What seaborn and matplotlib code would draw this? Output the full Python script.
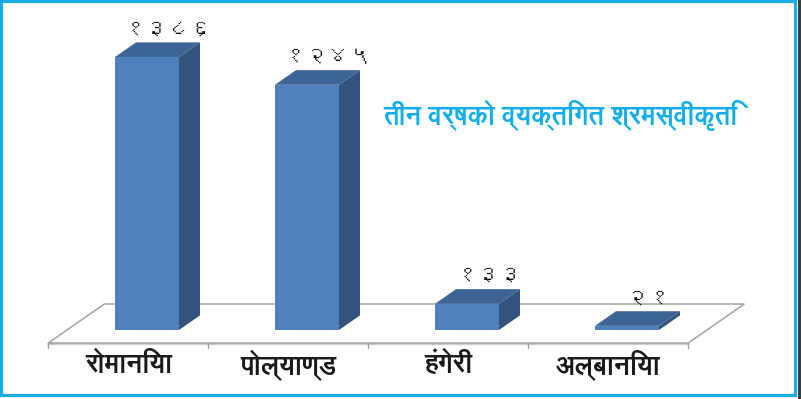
import matplotlib
matplotlib.use("Agg")
import matplotlib.pyplot as plt
import seaborn as sns
import pandas as pd
from matplotlib import font_manager
from matplotlib.ft2font import FT2Font
from matplotlib.patches import Polygon, Rectangle
from matplotlib.lines import Line2D
from matplotlib.transforms import IdentityTransform
import matplotlib.patheffects as pe

# ---------------- data ----------------
categories = ["रोमानिया", "पोल्याण्ड", "हंगेरी", "अल्बानिया"]
values = [1386, 1245, 133, 21]
value_labels = ["१३८६", "१२४५", "१३३", "२१"]
title_text = "तीन वर्षको व्यक्तिगत श्रमस्वीकृति"

# ---------------- fonts ----------------
def find_devanagari():
    regular, bold = None, None
    for f in font_manager.fontManager.ttflist:
        try:
            cm = FT2Font(f.fname).get_charmap()
        except Exception:
            continue
        if 0x0930 in cm and 0x0967 in cm:
            if regular is None:
                regular = f.name
            wt = f.weight
            if (isinstance(wt, int) and wt >= 600) or wt in ("bold", "heavy", "black", "semibold", "demibold"):
                if bold is None:
                    bold = f.name
    return regular, bold

sns.set_theme(style="white")
deva_reg, deva_bold = find_devanagari()
fams = ([deva_reg] if deva_reg else []) + ["DejaVu Sans"]
bold_fams = ([deva_bold] if deva_bold else fams[:1]) + ["DejaVu Sans"]
plt.rcParams["font.family"] = fams

# ---------------- figure ----------------
W, H = 801, 399
fig = plt.figure(figsize=(W / 100, H / 100), dpi=100)
fig.patch.set_facecolor("white")
ax = fig.add_axes([67 / W, 69 / H, 640 / W, 310 / H])

df = pd.DataFrame({"country": categories, "value": values})
sns.barplot(data=df, x="country", y="value", color="#4F81BD", saturation=1,
            width=0.4, ax=ax, zorder=3, linewidth=0)
ax.set_xlim(-0.5, 3.5)
ax.set_ylim(0, 1574)
ax.axis("off")

idt = IdentityTransform()
DX, DY = 56.0, 39.0          # floor depth in pixels
D0 = 1.0 / 3.0               # bar plane depth fraction
BD = 0.375                   # bar depth fraction
bdx, bdy = BD * DX, BD * DY

fig.canvas.draw()
T = ax.transData

# ---------------- floor ----------------
fl = T.transform((-0.5, 0))
fr = T.transform((3.5, 0))
fl = (fl[0] - D0 * DX, fl[1] - D0 * DY)
fr = (fr[0] - D0 * DX, fr[1] - D0 * DY)
floor = Polygon([fl, fr, (fr[0] + DX, fr[1] + DY), (fl[0] + DX, fl[1] + DY)],
                closed=True, facecolor="white", edgecolor="#A3A3A3",
                linewidth=1.1, transform=idt, clip_on=False, zorder=1)
ax.add_artist(floor)
ax.add_artist(Line2D([fl[0], fr[0]], [fl[1] - 1.2, fr[1] - 1.2], color="#CFCFCF",
                     linewidth=1.6, transform=idt, clip_on=False, zorder=0.9))
for i in range(len(categories) + 1):
    p = T.transform((i - 0.5, 0))
    x = p[0] - D0 * DX
    y = p[1] - D0 * DY
    ax.add_artist(Line2D([x, x], [y, y - 4.5], color="#A3A3A3", linewidth=1.0,
                         transform=idt, clip_on=False, zorder=1))

def boldfx(color, lw):
    if deva_bold:
        return []
    return [pe.withStroke(linewidth=lw, foreground=color)]

# category labels
for i, c in enumerate(categories):
    p = T.transform((i, 0))
    ax.text(p[0] - D0 * DX, 34, c, transform=idt, ha="center", va="center",
            fontsize=19, fontweight="bold", color="#1A1A1A", family=bold_fams,
            path_effects=boldfx("#1A1A1A", 1.6))

# ---------------- 3D bar faces ----------------
for p, lab in zip(ax.patches, value_labels):
    x0, w, h = p.get_x(), p.get_width(), p.get_height()
    bl = T.transform((x0, 0))
    tr = T.transform((x0 + w, h))
    top = Polygon([(bl[0], tr[1]), (tr[0], tr[1]), (tr[0] + bdx, tr[1] + bdy),
                   (bl[0] + bdx, tr[1] + bdy)], closed=True, facecolor="#3C6494",
                  edgecolor="none", transform=idt, clip_on=False, zorder=3)
    side = Polygon([(tr[0], bl[1]), (tr[0] + bdx, bl[1] + bdy), (tr[0] + bdx, tr[1] + bdy),
                    (tr[0], tr[1])], closed=True, facecolor="#33547D",
                   edgecolor="none", transform=idt, clip_on=False, zorder=3)
    ax.add_artist(top)
    ax.add_artist(side)
    cx = (bl[0] + tr[0] + bdx) / 2 + 11
    ax.text(cx, tr[1] + bdy + 5, lab, transform=idt, ha="center", va="bottom",
            fontsize=16, color="#111111", family=fams)

# ---------------- title ----------------
fig.text(560, 284, title_text, transform=idt, ha="center", va="center",
         fontsize=18.5, fontweight="bold", color="#10AEEA", family=bold_fams,
         path_effects=boldfx("#10AEEA", 1.8))

# ---------------- frame ----------------
fig.add_artist(Rectangle((1.3, 4.5), 793.7, 393.5, transform=idt, fill=False,
                         edgecolor="#1AAAE4", linewidth=2.3))
fig.add_artist(Rectangle((798, 0), 3, 399, transform=idt, facecolor="#3A3D40",
                         edgecolor="none"))

fig.savefig("out.png", dpi=100)
